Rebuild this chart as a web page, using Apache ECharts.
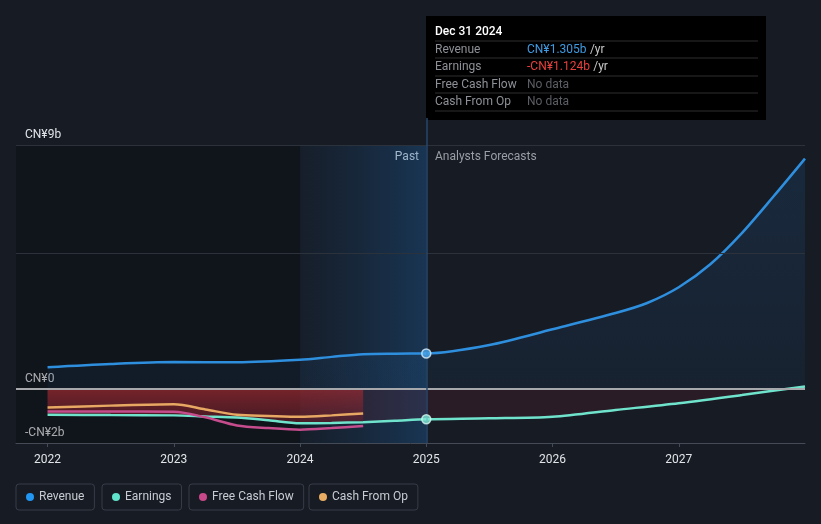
<!DOCTYPE html>
<html><head><meta charset="utf-8">
<script src="https://cdn.jsdelivr.net/npm/echarts@6/dist/echarts.min.js"></script>
<style>html,body{margin:0;padding:0;background:#161b24;}#c{width:821px;height:524px;}</style>
</head><body><div id="c"></div>
<script>
// ---- data (values in CN¥ billions) ----
const xTickYears = [2022, 2023, 2024, 2025, 2026, 2027];
const yTickValues = [-2, 0, 9];
const gridValues = [9, 5];

const revenueYears = [2022, 2022.5, 2023, 2023.5, 2024, 2024.25, 2024.5, 2024.75, 2025, 2025.5, 2026, 2026.5, 2026.75, 2027, 2027.25, 2027.5, 2027.75, 2028];
const revenueValues = [0.80, 0.92, 0.99, 0.98, 1.07, 1.18, 1.28, 1.30, 1.305, 1.62, 2.2, 2.8, 3.17, 3.75, 4.6, 5.75, 7.1, 8.5];

const earningsYears = [2022, 2022.5, 2023, 2023.25, 2023.5, 2023.75, 2024, 2024.25, 2024.5, 2024.75, 2025, 2025.5, 2026, 2026.5, 2027, 2027.5, 2028];
const earningsValues = [-0.96, -0.97, -0.98, -1.02, -1.06, -1.16, -1.27, -1.26, -1.23, -1.18, -1.124, -1.09, -1.03, -0.78, -0.53, -0.23, 0.09];

const cashYears = [2022, 2022.5, 2023, 2023.25, 2023.5, 2023.75, 2024, 2024.25, 2024.5];
const fcfValues = [-0.84, -0.84, -0.85, -1.05, -1.35, -1.45, -1.51, -1.45, -1.37];
const cfoValues = [-0.69, -0.62, -0.57, -0.76, -0.96, -1.0, -1.03, -0.98, -0.91];

const pastEnd = 2025;
const pastAreaEnd = 2024.5;
const tooltipDate = 'Dec 31 2024';
const seriesNames = ['Revenue', 'Earnings', 'Free Cash Flow', 'Cash From Op'];
const colors = ['#2f8fdf', '#6fe3cc', '#c54d8d', '#e6a862'];
const legendDots = ['#2196f3', '#5fe3cb', '#c9488a', '#e8ad62'];

function pairs(xs, vs) { return xs.map((x, i) => [x, vs[i]]); }
function fmt(v) {
  if (v === 0) return 'CN¥0';
  return (v < 0 ? '-' : '') + 'CN¥' + Math.abs(v) + 'b';
}
const revAt = revenueValues[revenueYears.indexOf(pastEnd)];
const earnAt = earningsValues[earningsYears.indexOf(pastEnd)];
const tooltipValues = [
  {text: fmt(revAt.toFixed(3) * 1), color: '#3d9be3'},
  {text: fmt(earnAt.toFixed(3) * 1), color: '#e8403d'},
  null, null
];
const earnPastIdx = earningsYears.filter(x => x <= pastAreaEnd).length;

const chart = echarts.init(document.getElementById('c'), null, {renderer: 'canvas'});
const FONT = 'Roboto, "Noto Sans", sans-serif';

const legends = seriesNames.map((n, i) => ({
  data: [n],
  left: [16, 102, 189, 309][i],
  top: 484,
  orient: 'horizontal',
  icon: 'circle',
  itemWidth: 8, itemHeight: 8,
  padding: [7, 10, 7, 10],
  borderColor: '#373c47', borderWidth: 1, borderRadius: 3,
  selectedMode: false,
  textStyle: {color: '#c8ccd2', fontSize: 12, fontFamily: FONT}
}));

const tooltipGraphic = [
  {type: 'rect', shape: {x: 426, y: 16, width: 340, height: 104}, style: {fill: '#000'}},
  {type: 'text', x: 435, y: 32, style: {text: tooltipDate, fill: '#fff', font: '500 12px ' + FONT, verticalAlign: 'middle'}}
];
[41, 58, 76, 93, 111].forEach(y => tooltipGraphic.push({type: 'line', shape: {x1: 435, y1: y, x2: 758, y2: y}, style: {stroke: '#2e2e2e', lineWidth: 1}}));
seriesNames.forEach((n, i) => {
  const y = [50, 67, 85, 102][i];
  tooltipGraphic.push({type: 'text', x: 435, y: y, style: {text: n, fill: '#8d9096', font: '12px ' + FONT, verticalAlign: 'middle'}});
  const tv = tooltipValues[i];
  if (tv) {
    tooltipGraphic.push({type: 'text', x: 527, y: y, style: {
      text: '{v|' + tv.text + '} {u|/yr}', verticalAlign: 'middle',
      rich: {v: {fill: tv.color, font: '12px ' + FONT}, u: {fill: '#c8c8c8', font: '12px ' + FONT}}
    }});
  } else {
    tooltipGraphic.push({type: 'text', x: 527, y: y, style: {text: 'No data', fill: '#5b5e64', font: '12px ' + FONT, verticalAlign: 'middle'}});
  }
});
tooltipGraphic.push({type: 'text', x: 419, y: 157, style: {text: 'Past', fill: '#f0f0f0', font: '12px ' + FONT, align: 'right', verticalAlign: 'middle'}});
tooltipGraphic.push({type: 'text', x: 435, y: 157, style: {text: 'Analysts Forecasts', fill: '#9a9ea5', font: '12px ' + FONT, verticalAlign: 'middle'}});

const option = {
  backgroundColor: '#161b24',
  animation: false,
  textStyle: {fontFamily: FONT},
  grid: {left: 16, right: 16, top: 118, bottom: 81, containLabel: false},
  legend: legends,
  xAxis: {
    type: 'value', min: 2021.75, max: 2028,
    axisLine: {show: true, onZero: false, lineStyle: {color: '#454b56', width: 1}},
    axisTick: {show: true, customValues: xTickYears, length: 4, lineStyle: {color: '#454b56'}},
    axisLabel: {customValues: xTickYears, color: '#e2e4e8', fontSize: 12, margin: 11, formatter: v => String(v)},
    splitLine: {show: false}
  },
  yAxis: {
    type: 'value', min: -2, max: 10,
    axisLine: {show: false}, axisTick: {show: false}, splitLine: {show: false},
    axisLabel: {customValues: yTickValues, inside: true, margin: 9, color: '#e2e4e8', fontSize: 12,
      verticalAlign: 'bottom', padding: [0, 0, 4, 0], formatter: v => fmt(v)}
  },
  graphic: tooltipGraphic,
  series: [
    {
      name: 'bg', type: 'line', z: 0, silent: true, showSymbol: false,
      data: pairs(revenueYears, revenueValues), lineStyle: {opacity: 0}, tooltip: {show: false},
      markArea: {silent: true, data: [
        [{xAxis: 2021.75, yAxis: -2, itemStyle: {color: 'rgba(0,0,0,0.25)'}}, {xAxis: 2024, yAxis: 9}],
        [{xAxis: 2024, yAxis: -2, itemStyle: {color: {type: 'linear', x: 0, y: 0, x2: 1, y2: 0, colorStops: [
          {offset: 0, color: 'rgba(25,70,115,0.08)'}, {offset: 1, color: 'rgba(28,85,140,0.45)'}]}}}, {xAxis: pastEnd, yAxis: 9}]
      ]},
      markLine: {silent: true, symbol: 'none', label: {show: false}, data: [
        ...gridValues.map(v => ({yAxis: v, lineStyle: {color: '#2c323c', width: 1, type: 'solid'}})),
        {yAxis: 0, lineStyle: {color: '#a6a8ac', width: 2, type: 'solid'}},
        {xAxis: pastEnd, lineStyle: {color: '#27476a', width: 1.5, type: 'solid'}}
      ]}
    },
    {
      name: 'earnPast', type: 'line', z: 1, silent: true, showSymbol: false, smooth: 0.3,
      data: pairs(earningsYears.slice(0, earnPastIdx), earningsValues.slice(0, earnPastIdx)),
      lineStyle: {opacity: 0},
      areaStyle: {color: {type: 'linear', x: 0, y: 0, x2: 0, y2: 1, colorStops: [
        {offset: 0, color: 'rgba(175,45,48,0.92)'}, {offset: 1, color: 'rgba(115,30,40,0.6)'}]}}
    },
    {
      name: seriesNames[0], type: 'line', z: 2, showSymbol: false, smooth: 0.3,
      data: pairs(revenueYears, revenueValues),
      itemStyle: {color: legendDots[0]},
      lineStyle: {color: colors[0], width: 2.5},
      areaStyle: {color: {type: 'linear', x: 0, y: 0, x2: 0, y2: 1, colorStops: [
        {offset: 0, color: 'rgba(40,120,200,0.22)'}, {offset: 1, color: 'rgba(40,120,200,0.10)'}]}}
    },
    {
      name: seriesNames[1], type: 'line', z: 3, showSymbol: false, smooth: 0.3,
      data: pairs(earningsYears, earningsValues),
      itemStyle: {color: legendDots[1]},
      lineStyle: {color: colors[1], width: 2.5},
      areaStyle: {color: 'rgba(120,35,50,0.28)'}
    },
    {
      name: seriesNames[2], type: 'line', z: 3, showSymbol: false, smooth: 0.3,
      data: pairs(cashYears, fcfValues),
      itemStyle: {color: legendDots[2]},
      lineStyle: {color: colors[2], width: 2.5}
    },
    {
      name: seriesNames[3], type: 'line', z: 3, showSymbol: false, smooth: 0.3,
      data: pairs(cashYears, cfoValues),
      itemStyle: {color: legendDots[3]},
      lineStyle: {color: colors[3], width: 2.5}
    },
    {
      name: 'points', type: 'scatter', z: 5, silent: true, symbolSize: 9,
      data: [
        {value: [pastEnd, revAt], itemStyle: {color: '#4aa6ec', borderColor: '#d8ecfa', borderWidth: 1.5}},
        {value: [pastEnd, earnAt], itemStyle: {color: '#7fe9d6', borderColor: '#d5f7f0', borderWidth: 1.5}}
      ]
    }
  ]
};
chart.setOption(option);
</script></body></html>
